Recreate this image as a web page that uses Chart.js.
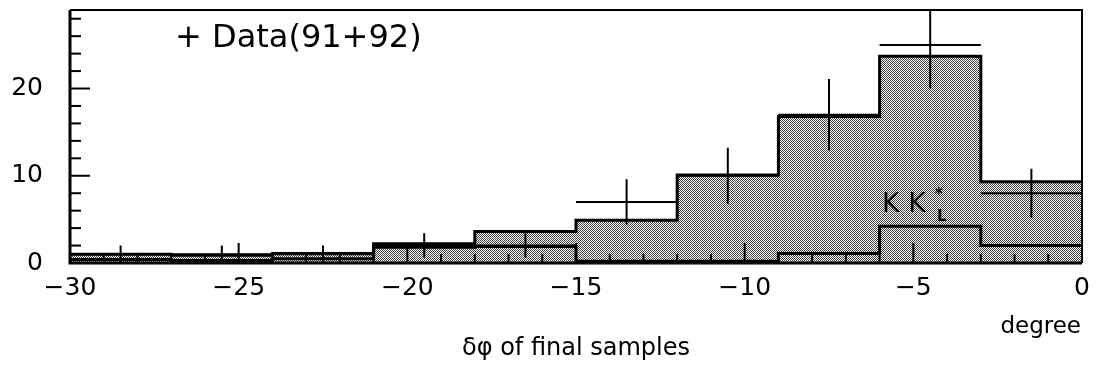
<!DOCTYPE html>
<html>
<head>
<meta charset="utf-8">
<script src="https://cdn.jsdelivr.net/npm/chart.js@4"></script>
<style>
  html, body { margin: 0; padding: 0; background: #fff; }
  #wrap { width: 1096px; height: 370px; }
</style>
</head>
<body>
<div id="wrap"><canvas id="c" width="1096" height="370"></canvas></div>
<script>
// bin edges of the histogram (degrees)
const binEdges = [-30, -27, -24, -21, -18, -15, -12, -9, -6, -3, 0];
// MC total (stippled histogram)
const mcTotal = [1.0, 0.9, 1.1, 2.2, 3.6, 4.9, 10.1, 16.8, 23.7, 9.3];
// K K*_L component (lower outline)
const mcKK = [0.4, 0.3, 0.5, 1.8, 1.9, 0.2, 0.2, 1.1, 4.2, 2.0];
// data points (91+92) with errors
const dataX = [-28.5, -25.5, -22.5, -19.5, -16.5, -13.5, -10.5, -7.5, -4.5, -1.5];
const dataY = [1, 1, 1, 2, 2, 7, 10, 17, 25, 8];
const dataErr = [1, 1, 1, 1.4, 1.4, 2.6, 3.2, 4.1, 5, 2.8];
const xTicks = [-30, -25, -20, -15, -10, -5, 0];
const yTicks = [0, 10, 20];

const FONT = "'DejaVu Sans', sans-serif";

function stepPoints(vals) {
  const pts = vals.map((v, i) => ({ x: binEdges[i], y: v }));
  pts.push({ x: binEdges[binEdges.length - 1], y: vals[vals.length - 1] });
  return pts;
}

function errorPoints() {
  const pts = [];
  dataX.forEach((x, i) => {
    const half = (binEdges[i + 1] - binEdges[i]) / 2;
    pts.push({ x: x, y: dataY[i] - dataErr[i] });
    pts.push({ x: x, y: dataY[i] + dataErr[i] });
    pts.push({ x: x, y: null });
    pts.push({ x: x - half, y: dataY[i] });
    pts.push({ x: x + half, y: dataY[i] });
    pts.push({ x: x + half, y: null });
  });
  return pts;
}

// fine stipple like the printed plot
const pc = document.createElement('canvas');
pc.width = 2; pc.height = 2;
const pctx = pc.getContext('2d');
pctx.fillStyle = '#fff'; pctx.fillRect(0, 0, 2, 2);
pctx.fillStyle = '#444'; pctx.fillRect(0, 0, 1, 1); pctx.fillRect(1, 1, 1, 1);
const stipple = pctx.createPattern(pc, 'repeat');

const framePlugin = {
  id: 'frame',
  afterDatasetsDraw(chart) {
    const { ctx, chartArea: a, scales: { x, y } } = chart;
    ctx.save();
    ctx.strokeStyle = '#000';
    ctx.lineWidth = 2;
    // minor / major ticks, pointing inward
    for (let v = -29; v <= -1; v++) {
      const px = x.getPixelForValue(v);
      const len = v % 5 === 0 ? 20 : 9;
      ctx.beginPath(); ctx.moveTo(px, a.bottom); ctx.lineTo(px, a.bottom - len); ctx.stroke();
    }
    for (let v = 2; v <= 28; v += 2) {
      const py = y.getPixelForValue(v);
      const len = v % 10 === 0 ? 20 : 11;
      ctx.beginPath(); ctx.moveTo(a.left, py); ctx.lineTo(a.left + len, py); ctx.stroke();
    }
    // frame
    ctx.beginPath();
    ctx.moveTo(a.left, a.top); ctx.lineTo(a.right, a.top); ctx.lineTo(a.right, a.bottom);
    ctx.stroke();
    ctx.lineWidth = 3;
    ctx.beginPath();
    ctx.moveTo(a.left, a.top); ctx.lineTo(a.left, a.bottom); ctx.lineTo(a.right, a.bottom);
    ctx.stroke();

    ctx.fillStyle = '#000';
    ctx.textBaseline = 'alphabetic';
    ctx.textAlign = 'left';
    ctx.font = '32px ' + FONT;
    ctx.fillText('+ Data(91+92)', 175, 47);
    ctx.font = '27px ' + FONT;
    ctx.fillText('K K', 882, 212);
    ctx.font = 'bold 15px ' + FONT;
    ctx.fillText('L', 937, 221);
    ctx.fillText('*', 935, 199);
    ctx.font = '23px ' + FONT;
    ctx.textAlign = 'right';
    ctx.fillText('degree', 1081, 333);
    ctx.restore();
  }
};

new Chart(document.getElementById('c'), {
  type: 'scatter',
  data: {
    datasets: [
      {
        order: 3,
        data: stepPoints(mcTotal),
        showLine: true,
        stepped: 'before',
        fill: 'origin',
        backgroundColor: stipple,
        borderColor: '#000',
        borderWidth: 3,
        pointRadius: 0
      },
      {
        order: 2,
        data: stepPoints(mcKK),
        showLine: true,
        stepped: 'before',
        fill: false,
        borderColor: '#000',
        borderWidth: 3,
        pointRadius: 0
      },
      {
        order: 1,
        data: errorPoints(),
        showLine: true,
        spanGaps: false,
        fill: false,
        borderColor: '#000',
        borderWidth: 2,
        pointRadius: 0
      }
    ]
  },
  options: {
    responsive: false,
    animation: false,
    layout: { padding: { top: 10, right: 14, left: 0, bottom: 0 } },
    plugins: { legend: { display: false }, tooltip: { enabled: false } },
    scales: {
      x: {
        type: 'linear',
        min: -30,
        max: 0,
        afterFit: s => { s.height = 107; s.paddingLeft = 0; s.paddingRight = 0; },
        afterBuildTicks: s => { s.ticks = xTicks.map(v => ({ value: v })); },
        grid: { display: false, drawTicks: false },
        border: { display: false },
        ticks: {
          padding: 10,
          color: '#000',
          font: { family: FONT, size: 25 },
          maxRotation: 0,
          callback: v => (v < 0 ? '\u2212' + Math.abs(v) : String(v))
        },
        title: {
          display: true,
          text: 'δφ of final samples',
          color: '#000',
          font: { family: FONT, size: 24 },
          padding: { top: 0, bottom: 7 }
        }
      },
      y: {
        min: 0,
        max: 29,
        afterFit: s => { s.width = 70; s.paddingTop = 0; s.paddingBottom = 0; },
        afterBuildTicks: s => { s.ticks = yTicks.map(v => ({ value: v })); },
        grid: { display: false, drawTicks: false },
        border: { display: false },
        ticks: {
          padding: 27,
          color: '#000',
          font: { family: FONT, size: 25 }
        }
      }
    }
  },
  plugins: [framePlugin]
});
</script>
</body>
</html>
